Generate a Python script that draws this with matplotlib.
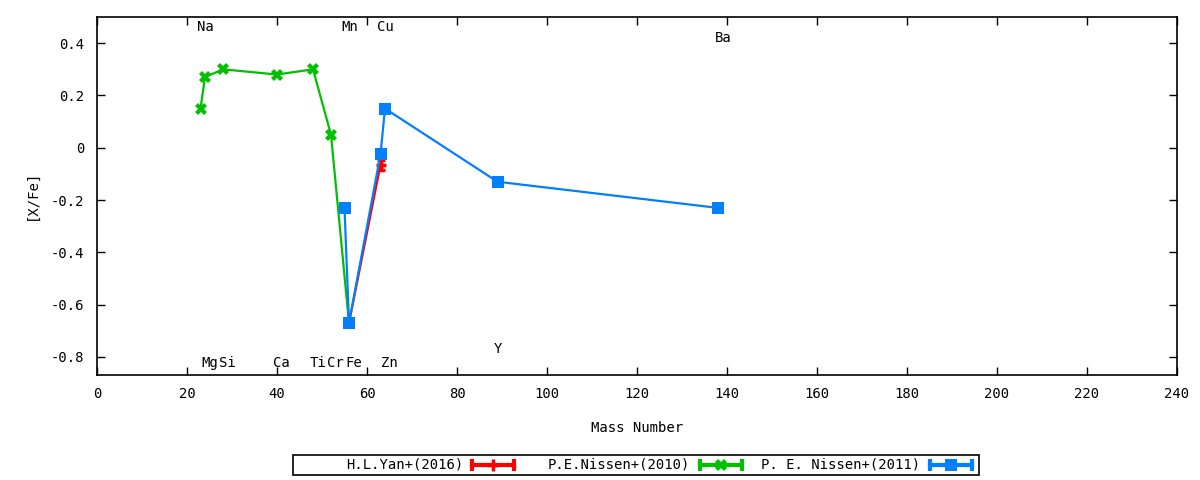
import matplotlib
matplotlib.use("Agg")
import matplotlib.pyplot as plt
from matplotlib.lines import Line2D
from matplotlib.patches import Rectangle

# ---- data ----
yan_mass = [56, 63]
yan_val = [-0.67, -0.065]
yan_err = [0.0, 0.02]

nissen10_mass = [23, 24, 28, 40, 48, 52, 56]
nissen10_val = [0.15, 0.27, 0.30, 0.28, 0.30, 0.05, -0.67]

nissen11_mass = [55, 56, 63, 64, 89, 138]
nissen11_val = [-0.23, -0.67, -0.025, 0.15, -0.13, -0.23]

elem_names = ["Na", "Mg", "Si", "Ca", "Ti", "Cr", "Mn", "Fe", "Cu", "Zn", "Y", "Ba"]
elem_mass = [23, 24, 28, 40, 48, 52, 55, 56, 63, 64, 89, 138]
elem_ypos = [0.46, -0.823, -0.823, -0.823, -0.823, -0.823, 0.46, -0.823, 0.46, -0.823, -0.77, 0.42]

xticks = [0, 20, 40, 60, 80, 100, 120, 140, 160, 180, 200, 220, 240]
yticks = [-0.8, -0.6, -0.4, -0.2, 0, 0.2, 0.4]
ytick_labels = ["-0.8", "-0.6", "-0.4", "-0.2", "0", "0.2", "0.4"]

legend_labels = ["H.L.Yan+(2016)", "P.E.Nissen+(2010)", "P. E. Nissen+(2011)"]

RED = "#ff0000"
GREEN = "#00c000"
BLUE = "#0080ff"

plt.rcParams["font.family"] = ["DejaVu Sans Mono"]
plt.rcParams["font.size"] = 9.5

W, H = 1200, 480
fig = plt.figure(figsize=(W / 100, H / 100), dpi=100)
ax = fig.add_axes([97 / W, 1 - 375 / H, (1177 - 97) / W, (375 - 17) / H])

ax.errorbar(yan_mass, yan_val, yerr=yan_err, color=RED, lw=1.6, marker="+",
            ms=7, mew=2.5, capsize=3, elinewidth=2.5, zorder=3)
ax.plot(nissen10_mass, nissen10_val, color=GREEN, lw=1.6, marker="X", ms=8,
        mew=0, zorder=4)
ax.plot(nissen11_mass, nissen11_val, color=BLUE, lw=1.6, marker="s", ms=8,
        mew=0, zorder=5)

for name, m, yv in zip(elem_names, elem_mass, elem_ypos):
    ax.text(m - 0.8, yv, name, ha="left", va="center", fontsize=10, zorder=6)

ax.set_xlim(0, 240)
ax.set_ylim(-0.869, 0.5)
ax.set_xticks(xticks)
ax.set_xticklabels([str(t) for t in xticks])
ax.set_yticks(yticks)
ax.set_yticklabels(ytick_labels)
ax.tick_params(direction="in", length=6, width=1, top=True, right=True,
               labelsize=10, pad=9)
for s in ax.spines.values():
    s.set_linewidth(1.2)

ax.set_xlabel("Mass Number", fontsize=10, labelpad=14)
fig.text(32 / W, 1 - 195 / H, "[X/Fe]", rotation=90, ha="center", va="center",
         fontsize=10)

# ---- legend (manual, gnuplot style) ----
tf = fig.transFigure
def fx(px):
    return px / W
def fy(py):
    return 1 - py / H

fig.patches.append(Rectangle((fx(293), fy(475)), fx(979) - fx(293), fy(455) - fy(475),
                             transform=tf, fill=False, lw=1.2, edgecolor="black"))
entries = [(legend_labels[0], RED, "+", 463, 472, 514),
           (legend_labels[1], GREEN, "X", 690, 700, 742),
           (legend_labels[2], BLUE, "s", 920, 930, 972)]
ly = 465
for lab, col, mk, tx, x0, x1 in entries:
    fig.text(fx(tx), fy(ly), lab, ha="right", va="center", fontsize=10)
    fig.lines.append(Line2D([fx(x0), fx(x1)], [fy(ly), fy(ly)], transform=tf,
                            color=col, lw=3))
    fig.lines.append(Line2D([fx(x0), fx(x1)], [fy(ly), fy(ly)], transform=tf,
                            color=col, lw=0, marker="|", ms=8, mew=3))
    fig.lines.append(Line2D([fx((x0 + x1) / 2)], [fy(ly)], transform=tf,
                            color=col, lw=0, marker=mk, ms=8,
                            mew=2.5 if mk == "+" else 0))

fig.savefig("out.png", dpi=100)
